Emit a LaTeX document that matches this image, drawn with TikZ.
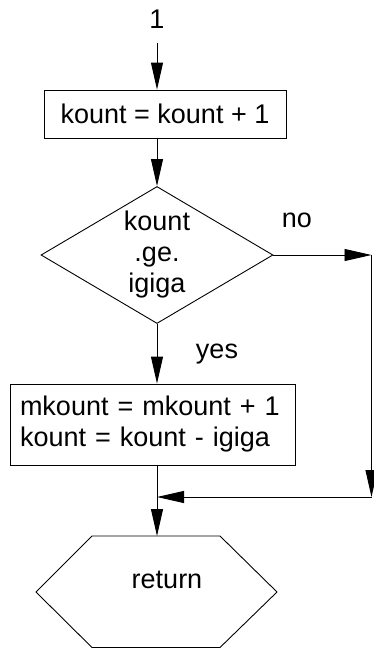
\documentclass[tikz,border=0pt]{standalone}
\usepackage{fontspec}
\setmainfont{Liberation Sans}
\usetikzlibrary{arrows.meta,positioning,shapes.geometric}

\begin{document}
\begin{tikzpicture}[x=1pt,y=-1pt,
  font=\fontsize{27}{31}\selectfont,
  box/.style={draw,line width=0.9pt,inner sep=0pt,align=center},
  arr/.style={-{Triangle[length=27pt,width=12pt]},line width=0.9pt}]
\useasboundingbox (0,0) rectangle (373,649);
\node[anchor=base] (one) at (157,28) {1};
\node[box,minimum width=242,minimum height=48] (kinc) at (165,114) {kount = kount + 1};
\node[box,diamond,aspect=1.7,minimum width=232,minimum height=137] (test) at (157,255) {kount\\.ge.\\igiga};
\node[anchor=base] (nolbl) at (297,227) {no};
\node[anchor=base] (yeslbl) at (217,358) {yes};
\node[box,minimum width=285,minimum height=81,text width=265,align=left] (mupd) at (152.5,424.5)
  {mkount = mkount + 1\\kount = kount - igiga};
\coordinate (nr) at (371.5,255);
\coordinate (sr) at (371.5,497);
\coordinate (join) at (157,497);
\coordinate (hextop) at (157,536);
% return block
\draw[line width=0.9pt] (36,592) -- (92,536) -- (220,536) -- (277,592) -- (220,647.5) -- (92,647.5) -- cycle;
\node[anchor=base] (ret) at (167,588) {return};
\draw[arr] ([yshift=-15pt]one.base) -- (kinc.north -| one);
\draw[arr] (kinc.south -| test) -- (test.north);
\draw[arr] (test.south) -- (mupd.north -| test);
\draw[arr] (test.east) -- (nr);
\draw[arr] (nr) -- (sr);
\draw[arr] (sr) -- (join);
\draw[arr] (mupd.south -| test) -- (hextop);
\end{tikzpicture}
\end{document}
